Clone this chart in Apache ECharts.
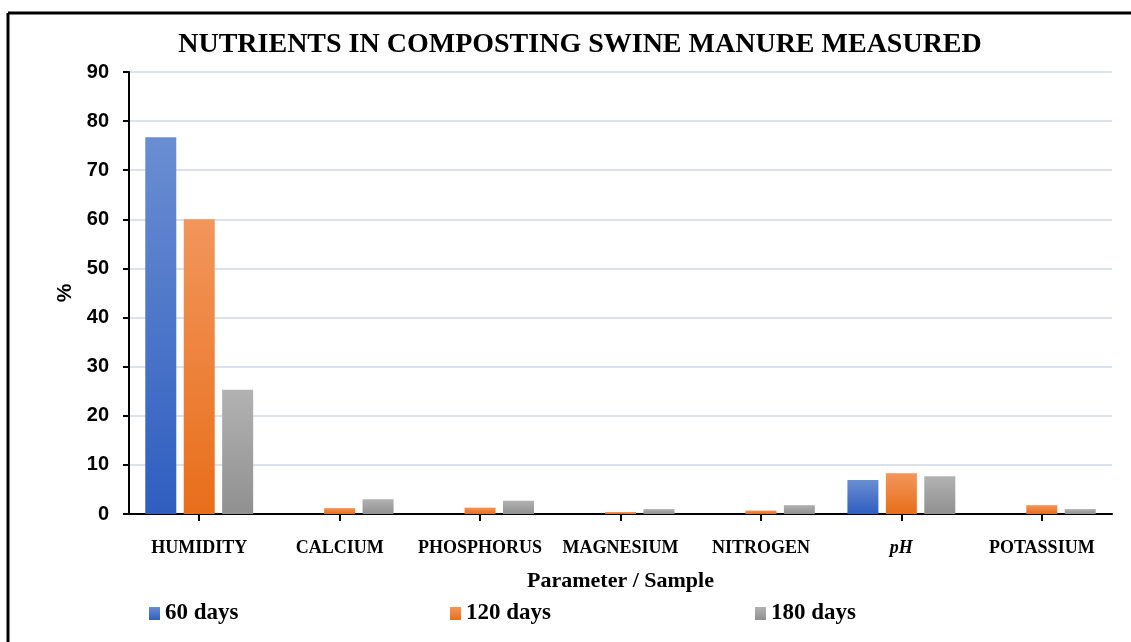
<!DOCTYPE html>
<html>
<head>
<meta charset="utf-8">
<script src="https://cdn.jsdelivr.net/npm/echarts@6/dist/echarts.min.js"></script>
<style>
  html, body { margin: 0; padding: 0; background: #fff; }
  #chartBox { width: 1131px; height: 642px; }
</style>
</head>
<body>
<div id="chartBox"></div>
<script>
// categories & values
var categories = ['HUMIDITY', 'CALCIUM', 'PHOSPHORUS', 'MAGNESIUM', 'NITROGEN', 'pH', 'POTASSIUM'];
var seriesNames = ['60 days', '120 days', '180 days'];
var days60 = [76.7, 0, 0, 0, 0, 6.9, 0];
var days120 = [60.0, 1.2, 1.3, 0.4, 0.7, 8.3, 1.8];
var days180 = [25.3, 3.0, 2.7, 1.0, 1.8, 7.7, 1.0];

var serif = '"Liberation Serif", "Times New Roman", serif';
var sans = '"Liberation Sans", Arial, sans-serif';

function grad(top, bottom) {
  return new echarts.graphic.LinearGradient(0, 0, 0, 1, [
    { offset: 0, color: top },
    { offset: 1, color: bottom }
  ]);
}

var chart = echarts.init(document.getElementById('chartBox'));

function legendAt(name, left) {
  return {
    data: [name],
    left: left,
    top: 602,
    padding: 0,
    icon: 'rect',
    itemWidth: 11,
    itemHeight: 13,
    textStyle: { fontFamily: serif, fontWeight: 'bold', fontSize: 23, color: '#000' }
  };
}

var option = {
  animation: false,
  title: {
    text: 'NUTRIENTS IN COMPOSTING SWINE MANURE MEASURED',
    left: 575,
    top: 26,
    textAlign: 'center',
    textStyle: { fontFamily: serif, fontWeight: 'bold', fontSize: 28, color: '#000' }
  },
  legend: [
    legendAt(seriesNames[0], 149),
    legendAt(seriesNames[1], 450),
    legendAt(seriesNames[2], 755)
  ],
  grid: { left: 129, right: 19, top: 72, bottom: 128 },
  xAxis: {
    type: 'category',
    data: categories,
    name: 'Parameter / Sample',
    nameLocation: 'middle',
    nameGap: 56,
    nameTextStyle: { fontFamily: serif, fontWeight: 'bold', fontSize: 22, color: '#000' },
    axisLine: { lineStyle: { color: '#000', width: 2 } },
    axisTick: { show: true, alignWithLabel: true, interval: 0, length: 7, lineStyle: { color: '#000', width: 2 } },
    axisLabel: {
      interval: 0,
      margin: 25,
      color: '#000',
      fontFamily: serif,
      fontWeight: 'bold',
      fontSize: 18,
      formatter: function (v) { return v === 'pH' ? '{i|pH}' : v; },
      rich: { i: { fontStyle: 'italic', fontFamily: serif, fontWeight: 'bold', fontSize: 18, color: '#000' } }
    }
  },
  yAxis: {
    type: 'value',
    min: 0,
    max: 90,
    interval: 10,
    name: '%',
    nameLocation: 'middle',
    nameGap: 53,
    nameRotate: 90,
    nameTextStyle: { fontFamily: sans, fontWeight: 'bold', fontSize: 21, color: '#000' },
    axisLine: { show: true, lineStyle: { color: '#000', width: 2 } },
    axisTick: { show: true, length: 6, lineStyle: { color: '#000', width: 2 } },
    axisLabel: { margin: 20, color: '#000', fontFamily: sans, fontWeight: 'bold', fontSize: 20 },
    splitLine: { lineStyle: { color: '#dbe2ec', width: 2 } }
  },
  series: [
    {
      name: seriesNames[0], type: 'bar', data: days60,
      barWidth: 31, barGap: '24%',
      itemStyle: { color: grad('#6a8ed2', '#2f5ec0') }
    },
    {
      name: seriesNames[1], type: 'bar', data: days120,
      barWidth: 31, barGap: '24%',
      itemStyle: { color: grad('#f2965c', '#e86e1a') }
    },
    {
      name: seriesNames[2], type: 'bar', data: days180,
      barWidth: 31, barGap: '24%',
      itemStyle: { color: grad('#b2b2b2', '#909090') }
    }
  ],
  graphic: [
    { type: 'line', shape: { x1: 8, y1: 13, x2: 1131, y2: 13 }, style: { stroke: '#000', lineWidth: 3 } },
    { type: 'line', shape: { x1: 8, y1: 13, x2: 8, y2: 642 }, style: { stroke: '#000', lineWidth: 3 } }
  ]
};

chart.setOption(option);
</script>
</body>
</html>
